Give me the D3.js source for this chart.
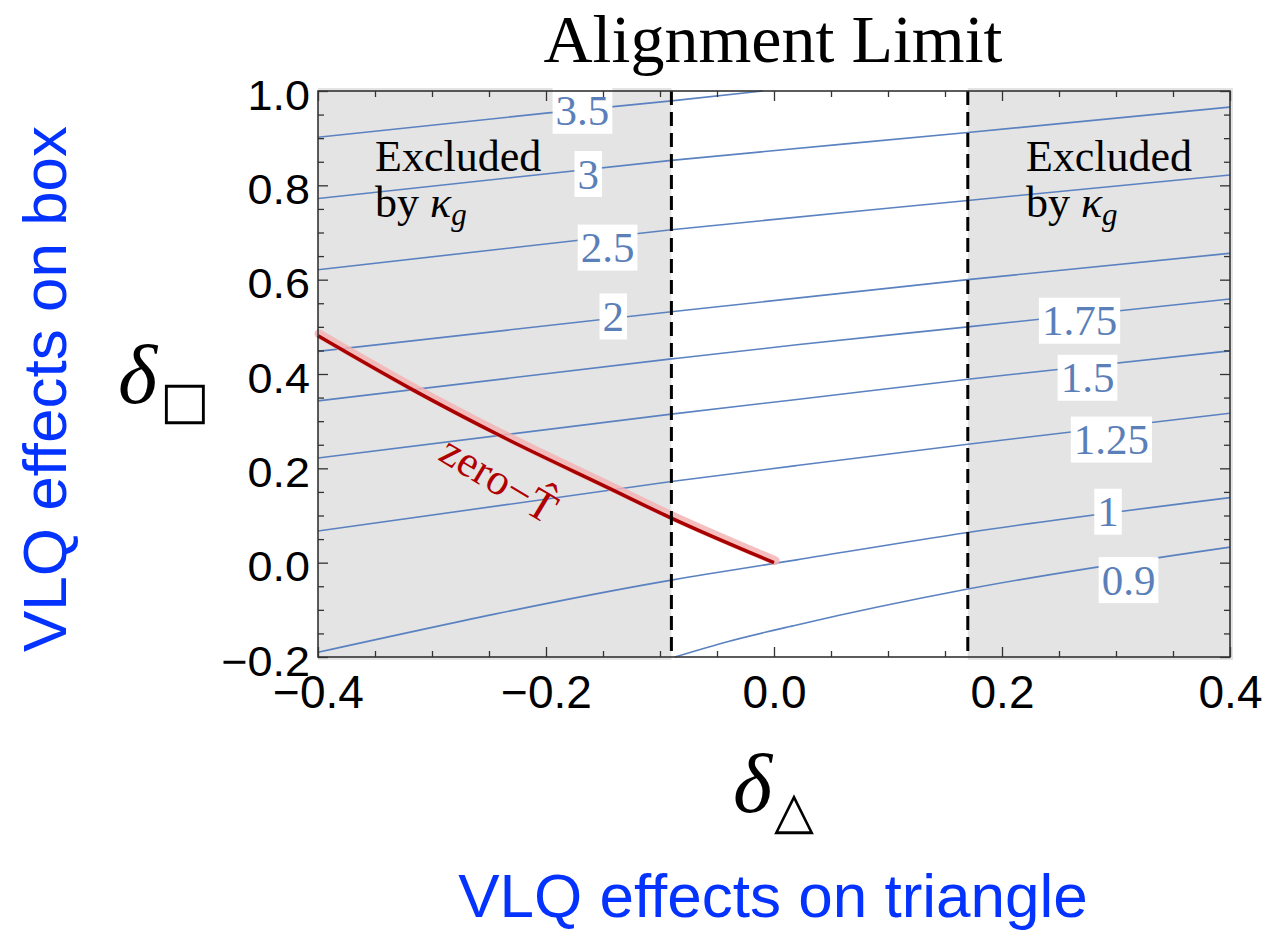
<!DOCTYPE html>
<html>
<head>
<meta charset="utf-8">
<script src="https://cdn.jsdelivr.net/npm/d3@7"></script>
<style>
  body { margin: 0; background: #fff; }
  svg { display: block; }
</style>
</head>
<body>
<svg id="chart" width="1267" height="931"></svg>
<script>
// axis ranges and ticks
var xDomain = [-0.4, 0.4],
    yDomain = [-0.2, 1.0];
var xMajor = [-0.4, -0.2, 0.0, 0.2, 0.4];
var yMajor = [-0.2, 0.0, 0.2, 0.4, 0.6, 0.8, 1.0];
var xMinor = [-0.35, -0.3, -0.25, -0.15, -0.1, -0.05, 0.05, 0.1, 0.15, 0.25, 0.3, 0.35];
var yMinor = [-0.15, -0.1, -0.05, 0.05, 0.1, 0.15, 0.25, 0.3, 0.35, 0.45, 0.5, 0.55, 0.65, 0.7, 0.75, 0.85, 0.9, 0.95];

// excluded bands (kappa_g) and their dashed borders
var excludedBands = [[-0.4, -0.09], [0.17, 0.4]];
var dashedX = [-0.09, 0.17];
var excludedTextX = [-0.35, 0.221];

// contour lines
var contourLevels = ["3.5", "3", "2.5", "2", "1.75", "1.5", "1.25", "1", "0.9"];
var contourPoints = [
  [[-0.4, 0.902], [-0.2, 0.953], [-0.09, 0.979], [-0.01, 1.0]],
  [[-0.4, 0.772], [-0.09, 0.853], [0.17, 0.912], [0.4, 0.966]],
  [[-0.4, 0.621], [-0.09, 0.706], [0.17, 0.768], [0.4, 0.822]],
  [[-0.4, 0.448], [-0.09, 0.532], [0.17, 0.600], [0.4, 0.656]],
  [[-0.4, 0.343], [-0.09, 0.432], [0.02, 0.462], [0.17, 0.500], [0.4, 0.559]],
  [[-0.4, 0.222], [-0.09, 0.315], [0.02, 0.346], [0.17, 0.389], [0.4, 0.449]],
  [[-0.4, 0.067], [-0.09, 0.172], [0.02, 0.206], [0.17, 0.251], [0.4, 0.317]],
  [[-0.4, -0.190], [-0.09, -0.037], [0.02, 0.006], [0.17, 0.064], [0.4, 0.138]],
  [[-0.087, -0.2], [-0.04, -0.167], [0.02, -0.132], [0.17, -0.056], [0.4, 0.033]]
];
var labelX = [-0.168, -0.163, -0.146, -0.141, 0.268, 0.275, 0.296, 0.293, 0.311];
var labelY = [0.958, 0.824, 0.668, 0.522, 0.513, 0.392, 0.261, 0.108, -0.037];

// zero-T curve
var zeroTx = [-0.4, -0.318, -0.24, -0.143, -0.091, 0.0];
var zeroTy = [0.481, 0.368, 0.269, 0.156, 0.0955, 0.0];

var svg = d3.select("#chart");

// set the dimensions and margins of the graph
var margin = {top: 91, left: 318},
    width = 912,
    height = 566;

var x = d3.scaleLinear().domain(xDomain).range([0, width]);
var y = d3.scaleLinear().domain(yDomain).range([height, 0]);

var g = svg.append("g")
  .attr("transform", "translate(" + margin.left + "," + margin.top + ")");

// grey excluded bands
g.selectAll("rect.band")
  .data(excludedBands)
  .enter()
  .append("rect")
  .attr("class", "band")
  .attr("x", d => x(d[0]))
  .attr("y", -3)
  .attr("width", (d, i) => x(d[1]) - x(d[0]) + (i == 1 ? 3 : 0))
  .attr("height", height + 6)
  .attr("fill", "#e4e4e4");

var line = d3.line()
  .x(d => x(d[0]))
  .y(d => y(d[1]))
  .curve(d3.curveMonotoneX);

// contour lines
g.selectAll("path.contour")
  .data(contourPoints)
  .enter()
  .append("path")
  .attr("class", "contour")
  .attr("d", line)
  .attr("fill", "none")
  .attr("stroke", "#5b82c0")
  .attr("stroke-width", 1.6);

// zero-T line with its pink halo
var zeroT = zeroTx.map((v, i) => [v, zeroTy[i]]);
g.append("path")
  .attr("d", line(zeroT))
  .attr("transform", "translate(1,-2)")
  .attr("fill", "none")
  .attr("stroke", "#f3b4b4")
  .attr("stroke-width", 9)
  .attr("stroke-linecap", "round")
  .attr("opacity", 0.85);
g.append("path")
  .attr("d", line(zeroT))
  .attr("fill", "none")
  .attr("stroke", "#a80000")
  .attr("stroke-width", 3.5);

g.append("text")
  .attr("transform", "translate(" + x(-0.241) + "," + y(0.178) + ") rotate(31)")
  .attr("text-anchor", "middle")
  .attr("dy", "0.35em")
  .attr("font-family", "Liberation Serif")
  .attr("font-size", 44)
  .attr("fill", "#b00000")
  .text("zero\u2212T\u0302");

// dashed borders
g.selectAll("line.dash")
  .data(dashedX)
  .enter()
  .append("line")
  .attr("class", "dash")
  .attr("x1", d => x(d))
  .attr("x2", d => x(d))
  .attr("y1", 0)
  .attr("y2", height)
  .attr("stroke", "#000")
  .attr("stroke-width", 3)
  .attr("stroke-dasharray", "14,7");

// contour labels in white boxes
var labels = g.selectAll("g.clabel")
  .data(contourLevels)
  .enter()
  .append("g")
  .attr("class", "clabel")
  .attr("transform", (d, i) => "translate(" + x(labelX[i]) + "," + y(labelY[i]) + ")");

labels.append("rect").attr("fill", "#fff");
labels.append("text")
  .attr("text-anchor", "middle")
  .attr("dy", "0.34em")
  .attr("font-family", "Liberation Serif")
  .attr("font-size", 43)
  .attr("fill", "#5b7fb8")
  .text(d => d);
labels.each(function() {
  var b = d3.select(this).select("text").node().getBBox();
  d3.select(this).select("rect")
    .attr("x", b.x - 3)
    .attr("y", -23)
    .attr("width", b.width + 6)
    .attr("height", 46);
});

// "Excluded by kappa_g"
excludedTextX.forEach(function(v) {
  var t = g.append("text")
    .attr("x", x(v))
    .attr("y", y(0.831))
    .attr("font-family", "Liberation Serif")
    .attr("font-size", 44)
    .attr("fill", "#000");
  t.append("tspan").text("Excluded");
  var t2 = g.append("text")
    .attr("x", x(v))
    .attr("y", y(0.732))
    .attr("font-family", "Liberation Serif")
    .attr("font-size", 44)
    .attr("fill", "#000");
  t2.append("tspan").text("by ");
  t2.append("tspan").attr("font-style", "italic").text("\u03ba");
  t2.append("tspan").attr("font-style", "italic").attr("font-size", 31).attr("dy", 8).text("g");
});

// frame
g.append("rect")
  .attr("width", width)
  .attr("height", height)
  .attr("fill", "none")
  .attr("stroke", "#333")
  .attr("stroke-width", 1.6);

// ticks (inward), majors and minors on all four sides
function tickAxis(axis, vals, size, tr) {
  var a = g.append("g")
    .attr("transform", tr)
    .call(axis.tickValues(vals).tickSize(-size).tickFormat(""));
  a.select(".domain").remove();
  a.selectAll(".tick line").attr("stroke", "#333").attr("stroke-width", 1.3);
  return a;
}
tickAxis(d3.axisBottom(x), xMinor, 6, "translate(0," + height + ")");
tickAxis(d3.axisTop(x), xMinor, 6, "translate(0,0)");
tickAxis(d3.axisLeft(y), yMinor, 6, "translate(0,0)");
tickAxis(d3.axisRight(y), yMinor, 6, "translate(" + width + ",0)");
tickAxis(d3.axisTop(x), xMajor, 10, "translate(0,0)");
tickAxis(d3.axisRight(y), yMajor, 10, "translate(" + width + ",0)");

// x axis with labels
var xAxis = g.append("g")
  .attr("transform", "translate(0," + height + ")")
  .call(d3.axisBottom(x).tickValues(xMajor).tickSize(-10).tickFormat(d3.format(".1f")));
xAxis.select(".domain").remove();
xAxis.selectAll(".tick line").attr("stroke", "#333").attr("stroke-width", 1.3);
xAxis.selectAll(".tick text")
  .attr("y", 51)
  .attr("dy", 0)
  .attr("font-family", "Liberation Sans")
  .attr("font-size", 46)
  .attr("fill", "#000");

// y axis with labels
var yAxis = g.append("g")
  .call(d3.axisLeft(y).tickValues(yMajor).tickSize(-10).tickFormat(d3.format(".1f")));
yAxis.select(".domain").remove();
yAxis.selectAll(".tick line").attr("stroke", "#333").attr("stroke-width", 1.3);
yAxis.selectAll(".tick text")
  .attr("x", 0)
  .attr("dy", 0)
  .attr("transform", "translate(-8,18) scale(1.07,1)")
  .attr("font-family", "Liberation Sans")
  .attr("font-size", 42)
  .attr("fill", "#000");

// title
svg.append("text")
  .attr("x", 773)
  .attr("y", 62)
  .attr("text-anchor", "middle")
  .attr("font-family", "Liberation Serif")
  .attr("font-size", 68)
  .attr("fill", "#000")
  .text("Alignment Limit");

// axis symbols
svg.append("text")
  .attr("x", 118).attr("y", 403)
  .attr("font-family", "Liberation Serif").attr("font-style", "italic")
  .attr("font-size", 84).attr("fill", "#000")
  .text("\u03b4");
svg.append("text")
  .attr("x", 160).attr("y", 418)
  .attr("font-family", "DejaVu Sans")
  .attr("font-size", 52).attr("fill", "#000")
  .text("\u25a1");
svg.append("text")
  .attr("x", 733).attr("y", 812)
  .attr("font-family", "Liberation Serif").attr("font-style", "italic")
  .attr("font-size", 84).attr("fill", "#000")
  .text("\u03b4");
svg.append("text")
  .attr("x", 774).attr("y", 828)
  .attr("font-family", "DejaVu Sans")
  .attr("font-size", 52).attr("fill", "#000")
  .text("\u25b3");

// blue annotations
svg.append("text")
  .attr("transform", "translate(66,389) rotate(-90)")
  .attr("text-anchor", "middle")
  .attr("font-family", "Liberation Sans")
  .attr("font-size", 62)
  .attr("fill", "#0433ff")
  .text("VLQ effects on box");
svg.append("text")
  .attr("x", 773)
  .attr("y", 917)
  .attr("text-anchor", "middle")
  .attr("font-family", "Liberation Sans")
  .attr("font-size", 62)
  .attr("fill", "#0433ff")
  .text("VLQ effects on triangle");
</script>
</body>
</html>
